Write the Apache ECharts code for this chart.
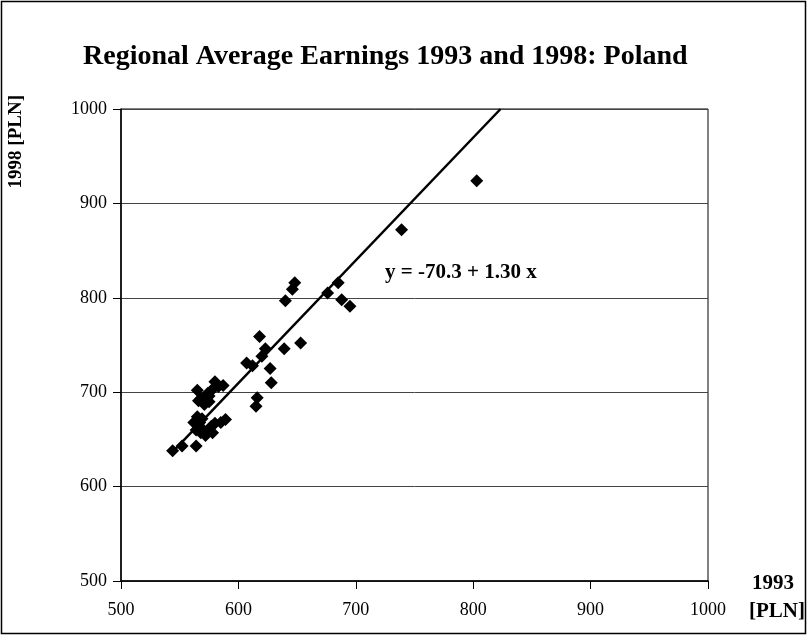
<!DOCTYPE html>
<html><head><meta charset="utf-8">
<script src="https://cdn.jsdelivr.net/npm/echarts@6/dist/echarts.min.js"></script>
<style>html,body{margin:0;padding:0;background:#fff}#c{width:807px;height:635px}</style>
</head><body><div id="c"></div>
<script>
// Regional average earnings (PLN) per region
var earnings1993 = [544,552,564,565,566,568,571,575,580,587,578,565,567,566,568,570,572,578,580,589,585,564,607,612,618,620,623,616,615,627,628,639,653,640,646,648,676,685,688,695,739,803,570,575,569,577,583,562,574];
var earnings1998 = [638,643,643,702,691,693,687,696,711,707,703,674,668,665,657,660,654,657,667,671,668,660,731,728,759,738,746,694,685,725,710,746,752,797,809,816,805,816,798,791,872,924,693,690,672,664,706,668,699];
var trendIntercept = -70.3, trendSlope = 1.30;
var trendX = [545, 823.3];
var xTicks = [500,600,700,800,900,1000];
var yTicks = [500,600,700,800,900,1000];

var pts = earnings1993.map(function(x,i){return [x, earnings1998[i]];});
var trend = trendX.map(function(x){return [x, trendIntercept + trendSlope*x];});
var font = 'Liberation Serif';
var chart = echarts.init(document.getElementById('c'), null, {renderer:'canvas'});
chart.setOption({
  backgroundColor:'#fff',
  animation:false,
  title:{text:'Regional Average Earnings 1993 and 1998: Poland', left:78, top:38,
    textStyle:{fontFamily:font, fontWeight:'bold', fontSize:28, color:'#000'}},
  grid:{left:121, right:99, top:109, bottom:54, show:true, borderColor:'#000', borderWidth:1},
  xAxis:{type:'value', min:xTicks[0], max:xTicks[xTicks.length-1], interval:100,
    axisLine:{show:true, onZero:false, lineStyle:{color:'#000', width:1.5}},
    axisTick:{show:true, length:8, lineStyle:{color:'#000'}},
    splitLine:{show:false},
    axisLabel:{fontFamily:font, fontSize:18, color:'#000', margin:20, formatter:function(v){return String(v);}}},
  yAxis:{type:'value', min:yTicks[0], max:yTicks[yTicks.length-1], interval:100,
    axisLine:{show:true, onZero:false, lineStyle:{color:'#000', width:1.5}},
    axisTick:{show:true, length:8, lineStyle:{color:'#000'}},
    splitLine:{show:true, lineStyle:{color:'#444', width:1}},
    axisLabel:{fontFamily:font, fontSize:18, color:'#000', margin:14, formatter:function(v){return String(v);}}},
  graphic:[
    {type:'rect', shape:{x:1.5,y:1.5,width:804,height:632}, style:{fill:'none', stroke:'#000', lineWidth:1.5}, z:-1},
    {type:'text', left:7, top:95, rotation:Math.PI/2, style:{text:'1998 [PLN]', fontFamily:font, fontWeight:'bold', fontSize:19, fill:'#000'}},
    {type:'text', x:752, y:573, style:{text:'1993', fontFamily:font, fontWeight:'bold', fontSize:21, fill:'#000'}},
    {type:'text', x:749, y:601, style:{text:'[PLN]', fontFamily:font, fontWeight:'bold', fontSize:21, fill:'#000'}},
    {type:'text', x:385, y:262, style:{text:'y = -70.3 + 1.30 x', fontFamily:font, fontWeight:'bold', fontSize:21, fill:'#000'}}
  ],
  series:[
    {type:'line', data:trend, symbol:'none', lineStyle:{color:'#000', width:2.5}, z:3, silent:true},
    {type:'scatter', data:pts, symbol:'diamond', symbolSize:13, itemStyle:{color:'#000', opacity:1}, z:4}
  ]
});
</script></body></html>
